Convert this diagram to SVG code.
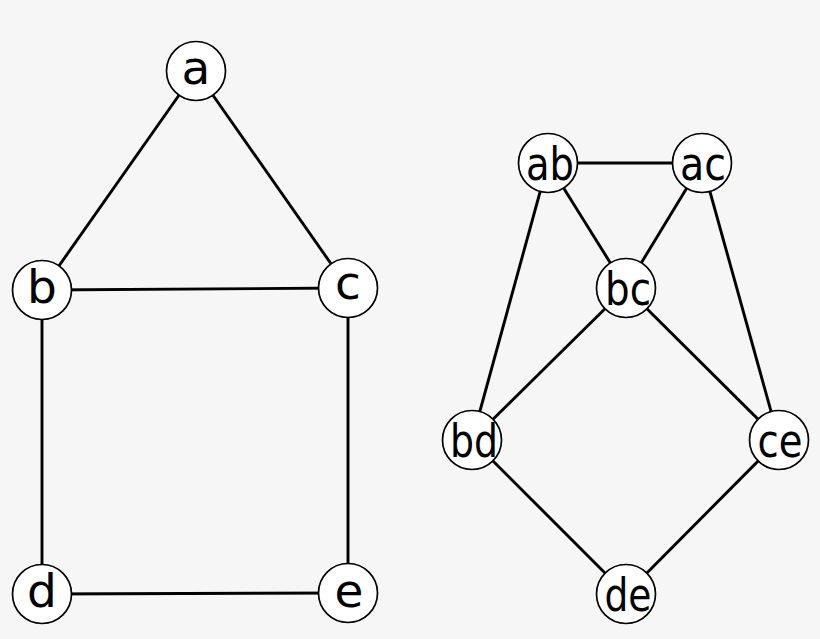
<svg xmlns="http://www.w3.org/2000/svg" width="820" height="639" viewBox="0 0 820 639">
<style>
.e{stroke:#000;stroke-width:2.9;fill:none}
.n circle{fill:#fff;stroke:#000;stroke-width:1.7}
.n text{font-family:"DejaVu Sans",sans-serif;font-size:47px;fill:#000;text-anchor:middle}
</style>
<rect width="820" height="639" fill="#f6f6f6"/>
<g id="edges" class="e">
<line x1="196" y1="71" x2="42" y2="290"/>
<line x1="196" y1="71" x2="348" y2="288"/>
<line x1="42" y1="290" x2="348" y2="288"/>
<line x1="42" y1="290" x2="42" y2="594"/>
<line x1="348" y1="288" x2="348" y2="593"/>
<line x1="42" y1="594" x2="348" y2="593"/>
<line x1="548" y1="163" x2="702" y2="163"/>
<line x1="548" y1="163" x2="626" y2="288"/>
<line x1="702" y1="163" x2="626" y2="288"/>
<line x1="548" y1="163" x2="472" y2="440"/>
<line x1="702" y1="163" x2="779" y2="440"/>
<line x1="626" y1="288" x2="472" y2="440"/>
<line x1="626" y1="288" x2="779" y2="440"/>
<line x1="472" y1="440" x2="626" y2="594"/>
<line x1="779" y1="440" x2="626" y2="594"/>
</g>
<g id="node-a" class="n"><circle cx="196" cy="71" r="29.5"/><text x="196" y="84">a</text></g>
<g id="node-b" class="n"><circle cx="42" cy="290" r="29.5"/><text x="42" y="303">b</text></g>
<g id="node-c" class="n"><circle cx="348" cy="288" r="29.5"/><text x="348" y="299">c</text></g>
<g id="node-d" class="n"><circle cx="42" cy="594" r="29.5"/><text x="42" y="607">d</text></g>
<g id="node-e" class="n"><circle cx="348" cy="593" r="29.5"/><text x="349" y="607">e</text></g>
<g id="node-ab" class="n"><circle cx="548" cy="163" r="29.5"/><text x="550" y="180" textLength="48" lengthAdjust="spacingAndGlyphs">ab</text></g>
<g id="node-ac" class="n"><circle cx="702" cy="163" r="29.5"/><text x="703" y="180" textLength="46" lengthAdjust="spacingAndGlyphs">ac</text></g>
<g id="node-bc" class="n"><circle cx="626" cy="288" r="29.5"/><text x="628" y="305" textLength="46" lengthAdjust="spacingAndGlyphs">bc</text></g>
<g id="node-bd" class="n"><circle cx="472" cy="440" r="29.5"/><text x="474" y="457" textLength="48" lengthAdjust="spacingAndGlyphs">bd</text></g>
<g id="node-ce" class="n"><circle cx="779" cy="440" r="29.5"/><text x="780" y="457" textLength="45" lengthAdjust="spacingAndGlyphs">ce</text></g>
<g id="node-de" class="n"><circle cx="626" cy="594" r="29.5"/><text x="628" y="611" textLength="47" lengthAdjust="spacingAndGlyphs">de</text></g>
</svg>
